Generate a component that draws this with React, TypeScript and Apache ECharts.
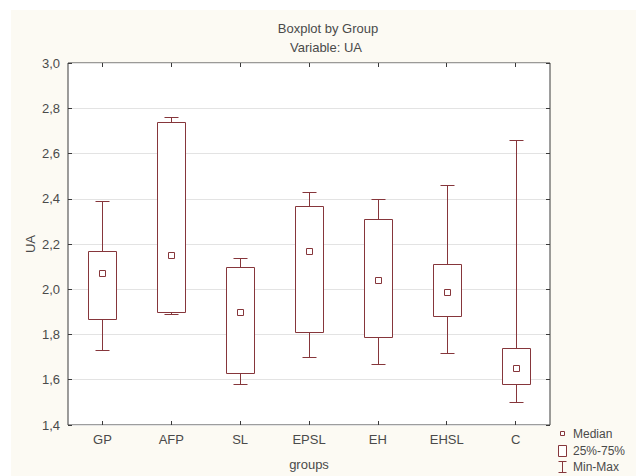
import React, { useEffect, useRef } from "react";
import * as echarts from "echarts";

const categories = ["GP", "AFP", "SL", "EPSL", "EH", "EHSL", "C"];
const minValues = [1.73, 1.89, 1.58, 1.70, 1.67, 1.72, 1.50];
const q1Values = [1.87, 1.90, 1.63, 1.81, 1.79, 1.88, 1.58];
const medianValues = [2.07, 2.15, 1.90, 2.17, 2.04, 1.99, 1.65];
const q3Values = [2.17, 2.74, 2.10, 2.37, 2.31, 2.11, 1.74];
const maxValues = [2.39, 2.76, 2.14, 2.43, 2.40, 2.46, 2.66];

const yMin = 1.4;
const yMax = 3.0;
const yInterval = 0.2;

const legendItems = ["Median", "25%-75%", "Min-Max"];

const BOX_COLOR = "#86363b";
const TEXT_COLOR = "#4a4a4a";
const FONT = "'Liberation Sans', Arial, sans-serif";

export default function App() {
  const ref = useRef<HTMLDivElement>(null);

  useEffect(() => {
    if (!ref.current) return;
    const chart = echarts.init(ref.current, null, { renderer: "svg" });

    const data = categories.map((c, i) => [
      i,
      minValues[i],
      q1Values[i],
      medianValues[i],
      q3Values[i],
      maxValues[i],
    ]);

    const r = (v: number) => Math.round(v) + 0.5;

    const renderItem = (params: any, api: any) => {
      const idx = api.value(0);
      const pMin = api.coord([idx, api.value(1)]);
      const pQ1 = api.coord([idx, api.value(2)]);
      const pMed = api.coord([idx, api.value(3)]);
      const pQ3 = api.coord([idx, api.value(4)]);
      const pMax = api.coord([idx, api.value(5)]);
      const x = r(pMin[0]);
      const halfBox = 14;
      const halfCap = 7;
      const line = { stroke: BOX_COLOR, lineWidth: 1, fill: null };
      const yQ1 = r(pQ1[1]);
      const yQ3 = r(pQ3[1]);
      const yMn = r(pMin[1]);
      const yMx = r(pMax[1]);
      const yMd = Math.round(pMed[1]);
      return {
        type: "group",
        children: [
          { type: "line", shape: { x1: x, y1: yMx, x2: x, y2: yQ3 }, style: line },
          { type: "line", shape: { x1: x - halfCap, y1: yMx, x2: x + halfCap, y2: yMx }, style: line },
          { type: "line", shape: { x1: x, y1: yQ1, x2: x, y2: yMn }, style: line },
          { type: "line", shape: { x1: x - halfCap, y1: yMn, x2: x + halfCap, y2: yMn }, style: line },
          {
            type: "rect",
            shape: { x: x - halfBox, y: yQ3, width: halfBox * 2, height: yQ1 - yQ3 },
            style: { stroke: BOX_COLOR, lineWidth: 1, fill: "#ffffff" },
          },
          {
            type: "rect",
            shape: { x: x - 3, y: yMd - 2.5, width: 6, height: 6 },
            style: { stroke: BOX_COLOR, lineWidth: 1, fill: "#ffffff" },
          },
        ],
      };
    };

    const legendX = 562.5;
    const textStyle = (text: string, x: number, y: number, size: number, align = "center") => ({
      type: "text",
      x,
      y,
      style: {
        text,
        fill: TEXT_COLOR,
        fontSize: size,
        fontFamily: FONT,
        align,
        verticalAlign: "middle",
        textAlign: align,
        textVerticalAlign: "middle",
      },
    });

    const option: any = {
      animation: false,
      backgroundColor: "#ffffff",
      textStyle: { fontFamily: FONT },
      grid: {
        left: 68,
        top: 63,
        right: 86,
        bottom: 47,
        show: true,
        backgroundColor: "#ffffff",
        borderColor: "#3a3a3a",
        borderWidth: 1,
      },
      xAxis: [
        {
          type: "category",
          data: categories,
          position: "bottom",
          boundaryGap: true,
          axisLine: { show: false },
          axisTick: { show: true, inside: true, alignWithLabel: true, length: 4, lineStyle: { color: "#3a3a3a" } },
          axisLabel: { color: TEXT_COLOR, fontSize: 13, margin: 8, fontFamily: FONT },
          splitLine: { show: false },
          name: "groups",
          nameLocation: "middle",
          nameGap: 33,
          nameMoveOverlap: false,
          nameTextStyle: { color: TEXT_COLOR, fontSize: 13, fontFamily: FONT },
        },
        {
          type: "category",
          data: categories,
          position: "top",
          boundaryGap: true,
          axisLine: { show: false },
          axisTick: { show: true, inside: true, alignWithLabel: true, length: 4, lineStyle: { color: "#3a3a3a" } },
          axisLabel: { show: false },
          splitLine: { show: false },
        },
      ],
      yAxis: [
        {
          type: "value",
          min: yMin,
          max: yMax,
          interval: yInterval,
          position: "left",
          axisLine: { show: false },
          axisTick: { show: true, inside: true, length: 4, lineStyle: { color: "#3a3a3a" } },
          axisLabel: {
            color: TEXT_COLOR,
            fontSize: 13,
            margin: 8,
            fontFamily: FONT,
            formatter: (v: number) => v.toFixed(1).replace(".", ","),
          },
          splitLine: { show: true, lineStyle: { color: "#e3e3e3", width: 1 } },
          name: "UA",
          nameLocation: "middle",
          nameGap: 31,
          nameMoveOverlap: false,
          nameTextStyle: { color: TEXT_COLOR, fontSize: 13, fontFamily: FONT },
        },
        {
          type: "value",
          min: yMin,
          max: yMax,
          interval: yInterval,
          position: "right",
          axisLine: { show: false },
          axisTick: { show: true, inside: true, length: 4, lineStyle: { color: "#3a3a3a" } },
          axisLabel: { show: false },
          splitLine: { show: false },
        },
      ],
      series: [
        {
          type: "custom",
          xAxisIndex: 0,
          yAxisIndex: 0,
          renderItem,
          encode: { x: 0, y: [1, 2, 3, 4, 5] },
          data,
          z: 5,
        },
      ],
      graphic: [
        {
          type: "rect",
          z: -100,
          shape: { x: 11, y: 10, width: 625, height: 466 },
          style: { fill: "#fcfaf3" },
        },
        textStyle("Boxplot by Group", 328, 28, 13),
        textStyle("Variable: UA", 326, 47, 13),
        {
          type: "rect",
          shape: { x: legendX - 2, y: 431.5, width: 4, height: 4 },
          style: { stroke: BOX_COLOR, lineWidth: 1, fill: "#ffffff" },
        },
        {
          type: "rect",
          shape: { x: legendX - 4, y: 445.5, width: 8, height: 11 },
          style: { stroke: BOX_COLOR, lineWidth: 1, fill: "#ffffff" },
        },
        {
          type: "polyline",
          shape: { points: [[legendX - 4, 461.5], [legendX + 4, 461.5]] },
          style: { stroke: BOX_COLOR, lineWidth: 1, fill: null },
        },
        {
          type: "polyline",
          shape: { points: [[legendX, 461.5], [legendX, 472.5]] },
          style: { stroke: BOX_COLOR, lineWidth: 1, fill: null },
        },
        {
          type: "polyline",
          shape: { points: [[legendX - 4, 472.5], [legendX + 4, 472.5]] },
          style: { stroke: BOX_COLOR, lineWidth: 1, fill: null },
        },
        textStyle(legendItems[0], 573, 434, 12, "left"),
        textStyle(legendItems[1], 573, 451, 12, "left"),
        textStyle(legendItems[2], 573, 467, 12, "left"),
      ],
    };

    chart.setOption(option);
    return () => chart.dispose();
  }, []);

  return (
    <div
      ref={ref}
      style={{ position: "absolute", left: 0, top: 0, width: 636, height: 476 }}
    />
  );
}
